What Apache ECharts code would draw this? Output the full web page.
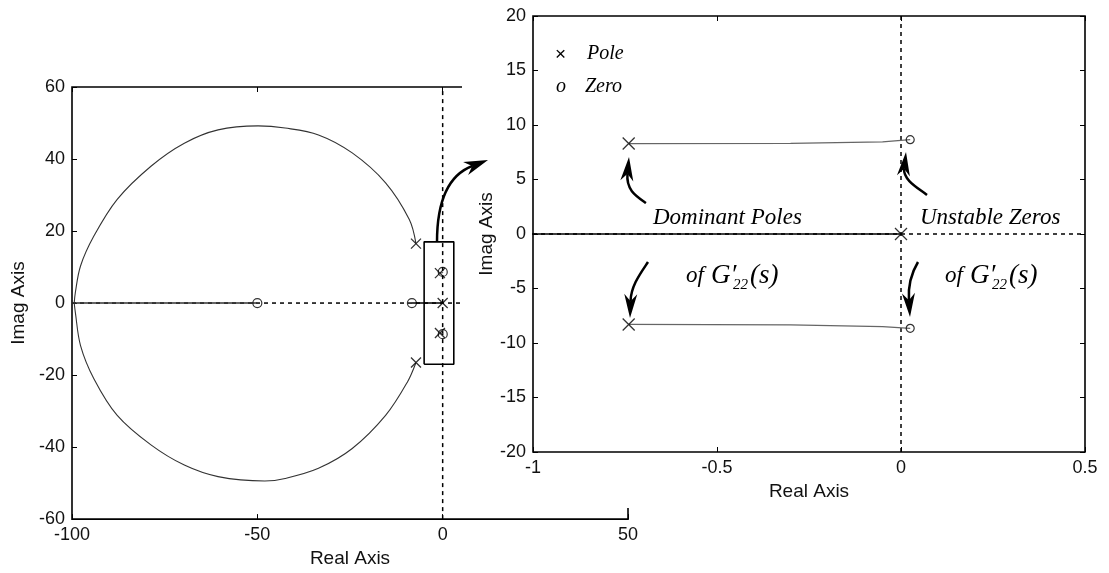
<!DOCTYPE html>
<html>
<head>
<meta charset="utf-8">
<script src="https://cdn.jsdelivr.net/npm/echarts@6/dist/echarts.min.js"></script>
<style>
  html, body { margin: 0; padding: 0; background: #fff; }
  #chart { width: 1109px; height: 573px; }
</style>
</head>
<body>
<div id="chart"></div>
<script>
// Open-loop poles and zeros, as [real, imag]
const poles = [[-7.2, 16.5], [-7.2, -16.5], [-0.74, 8.3], [-0.74, -8.3], [0, 0]];
const zeros = [[-50, 0], [-8.3, 0], [0.025, 8.65], [0.025, -8.65]];

// Root-locus branches
const upperBranch = [[-7.2, 16.5], [-9.0, 23.2], [-15.4, 33.4], [-24.4, 41.7], [-33.5, 46.7],
  [-42.5, 48.6], [-49.8, 49.2], [-60.6, 48.1], [-69.7, 44.4], [-78.7, 38.0], [-87.8, 28.8],
  [-94.1, 18.6], [-97.7, 10.3], [-99.1, 2.9], [-99.4, 0]];
const lowerBranch = [[-7.2, -16.5], [-9.5, -21.9], [-15.4, -31.2], [-24.4, -40.4], [-33.5, -45.9],
  [-42.5, -48.7], [-48.0, -49.4], [-60.6, -48.2], [-69.7, -45.0], [-78.7, -39.4], [-87.8, -31.2],
  [-94.1, -21.0], [-97.7, -11.8], [-99.1, -2.6], [-99.4, 0]];
const realLocusFar = [[-100, 0], [-50, 0]];
const realLocusNear = [[-8.3, 0], [0, 0]];
const dominantUpper = [[-0.74, 8.3], [-0.3, 8.32], [-0.05, 8.45], [0.025, 8.65]];
const dominantLower = [[-0.74, -8.3], [-0.3, -8.34], [-0.05, -8.5], [0.025, -8.65]];

// Axis limits and tick steps
const fullX = [-100, 50], fullXStep = 50;
const fullY = [-60, 60], fullYStep = 20;
const zoomX = [-1, 0.5], zoomXStep = 0.5;
const zoomY = [-20, 20], zoomYStep = 5;

// Region of the full locus that the right panel enlarges
const zoomBox = [[-5, -17], [-5, 17], [3, 17], [3, -17], [-5, -17]];

const SANS = '"Liberation Sans", Arial, sans-serif';
const SERIF = '"Liberation Serif", "Times New Roman", serif';
const CROSS = 'path://M0,0L10,10M10,0L0,10';

function axisPair(dim, gridIndex, range, step, z, name, nameGap) {
  const primaryPos = dim === 'x' ? 'bottom' : 'left';
  const secondaryPos = dim === 'x' ? 'top' : 'right';
  const common = {
    type: 'value', gridIndex: gridIndex, min: range[0], max: range[1], interval: step,
    z: z, splitLine: { show: false }, axisLine: { show: false, onZero: false },
    axisTick: { show: true, inside: true, length: 5, lineStyle: { color: '#000', width: 1 } }
  };
  return [
    Object.assign({}, common, {
      position: primaryPos,
      name: name, nameLocation: 'middle', nameGap: nameGap,
      nameTextStyle: { fontFamily: SANS, fontSize: 19, color: '#111' },
      axisLabel: { fontFamily: SANS, fontSize: 18, color: '#111', margin: 7 }
    }),
    Object.assign({}, common, { position: secondaryPos, axisLabel: { show: false } })
  ];
}

function lineSeries(data, xi, yi, z, style) {
  return {
    type: 'line', data: data, xAxisIndex: xi, yAxisIndex: yi, z: z,
    symbol: 'none', silent: true, clip: true, animation: false,
    smooth: style.smooth || false,
    lineStyle: { color: style.color, width: style.width, type: style.type || 'solid' }
  };
}

function panelSeries(xi, yi, xr, yr, z, marks) {
  const dash = { color: '#000', width: 1.5, type: [4, 4] };
  return [
    lineSeries([[0, yr[0]], [0, yr[1]]], xi, yi, z, dash),
    lineSeries([[xr[0], 0], [xr[1], 0]], xi, yi, z, dash),
    lineSeries(upperBranch, xi, yi, z, { color: '#333', width: 1.1, smooth: 0.35 }),
    lineSeries(lowerBranch, xi, yi, z, { color: '#333', width: 1.1, smooth: 0.35 }),
    lineSeries(realLocusFar, xi, yi, z, { color: '#333', width: 1.5 }),
    lineSeries(realLocusNear, xi, yi, z, { color: '#000', width: 1.6 }),
    lineSeries(dominantUpper, xi, yi, z, { color: '#666', width: 1.3 }),
    lineSeries(dominantLower, xi, yi, z, { color: '#666', width: 1.3 }),
    {
      type: 'scatter', name: 'Pole', data: poles, xAxisIndex: xi, yAxisIndex: yi, z: z + 1,
      symbol: CROSS, symbolSize: marks.pole, clip: true, silent: true, animation: false,
      itemStyle: { color: 'none', borderColor: '#000', borderWidth: 1.3 }
    },
    {
      type: 'scatter', name: 'Zero', data: zeros, xAxisIndex: xi, yAxisIndex: yi, z: z + 1,
      symbol: 'circle', symbolSize: marks.zero, clip: true, silent: true, animation: false,
      itemStyle: { color: 'none', borderColor: '#000', borderWidth: 1.2 }
    }
  ];
}

const chart = echarts.init(document.getElementById('chart'), null, { renderer: 'canvas' });

const leftX = axisPair('x', 0, fullX, fullXStep, 1, 'Real Axis', 27);
const leftY = axisPair('y', 0, fullY, fullYStep, 1, 'Imag Axis', 38);
const rightX = axisPair('x', 1, zoomX, zoomXStep, 20, 'Real Axis', 30);
const rightY = axisPair('y', 1, zoomY, zoomYStep, 20, 'Imag Axis', 37);

const series = []
  .concat(panelSeries(0, 0, fullX, fullY, 2, { pole: 10, zero: 9 }))
  .concat([lineSeries(zoomBox, 0, 0, 3, { color: '#000', width: 1.6 })])
  .concat(panelSeries(2, 2, zoomX, zoomY, 21, { pole: 12, zero: 8 }));

// Curved annotation arrow with a barbed head
function arrow(p0, c1, c2, tip, headLen, headWid) {
  const dx = tip[0] - c2[0], dy = tip[1] - c2[1];
  const len = Math.hypot(dx, dy);
  const ux = dx / len, uy = dy / len, nx = -uy, ny = ux;
  const bx = tip[0] - ux * headLen, by = tip[1] - uy * headLen;
  const notch = [tip[0] - ux * headLen * 0.7, tip[1] - uy * headLen * 0.7];
  return [
    {
      type: 'bezierCurve', z: 30, silent: true,
      shape: { x1: p0[0], y1: p0[1], cpx1: c1[0], cpy1: c1[1], cpx2: c2[0], cpy2: c2[1],
               x2: notch[0], y2: notch[1] },
      style: { stroke: '#000', lineWidth: 2.5, fill: 'none' }
    },
    {
      type: 'polygon', z: 30, silent: true,
      shape: { points: [tip, [bx + nx * headWid / 2, by + ny * headWid / 2], notch,
                        [bx - nx * headWid / 2, by - ny * headWid / 2]] },
      style: { fill: '#000' }
    }
  ];
}

function label(text, x, y, size, extra) {
  return Object.assign({
    type: 'text', z: 30, silent: true,
    style: { text: text, x: x, y: y, fill: '#000', align: 'left', verticalAlign: 'middle',
             font: 'italic ' + size + 'px ' + SERIF }
  }, extra || {});
}

function transferLabel(x0, y) {
  return [
    label('of', x0, y, 23),
    label('G\u2032', x0 + 25, y, 27),
    label('22', x0 + 47, y + 9, 15),
    label('(s)', x0 + 64, y, 27)
  ];
}

const graphics = [
  // panel backdrop for the enlarged view
  { type: 'rect', z: 10, silent: true, shape: { x: 462, y: 0, width: 647, height: 508 },
    style: { fill: '#fff' } },
  {
    type: 'text', z: 30, silent: true,
    style: { text: '\u00d7', x: 555, y: 55, fill: '#000', align: 'left', verticalAlign: 'middle',
             font: '19px ' + SANS }
  },
  label('Pole', 587, 54, 20),
  label('o', 556, 87, 20),
  label('Zero', 585, 87, 20),
  label('Dominant Poles', 653, 218, 23),
  label('Unstable Zeros', 920, 218, 23)
]
  .concat(transferLabel(686, 276))
  .concat(transferLabel(945, 276))
  .concat(arrow([437, 242], [437, 205], [446, 176], [488, 160], 24, 14))
  .concat(arrow([646, 203], [636, 196], [626, 190], [629, 157], 24, 13))
  .concat(arrow([927, 195], [918, 188], [903, 180], [906, 152], 24, 13))
  .concat(arrow([648, 262], [640, 274], [631, 286], [630, 318], 24, 13))
  .concat(arrow([918, 262], [912, 272], [908, 286], [910, 317], 24, 13));

chart.setOption({
  animation: false,
  backgroundColor: '#fff',
  grid: [
    { left: 72, top: 87, width: 556, height: 435, show: true, z: 1,
      borderColor: '#000', borderWidth: 1.6, backgroundColor: 'transparent' },
    { left: 533, top: 16, width: 552, height: 436, show: true, z: 20,
      borderColor: '#000', borderWidth: 1.6, backgroundColor: 'transparent' }
  ],
  xAxis: leftX.concat(rightX),
  yAxis: leftY.concat(rightY),
  series: series,
  graphic: { elements: graphics }
});
</script>
</body>
</html>
